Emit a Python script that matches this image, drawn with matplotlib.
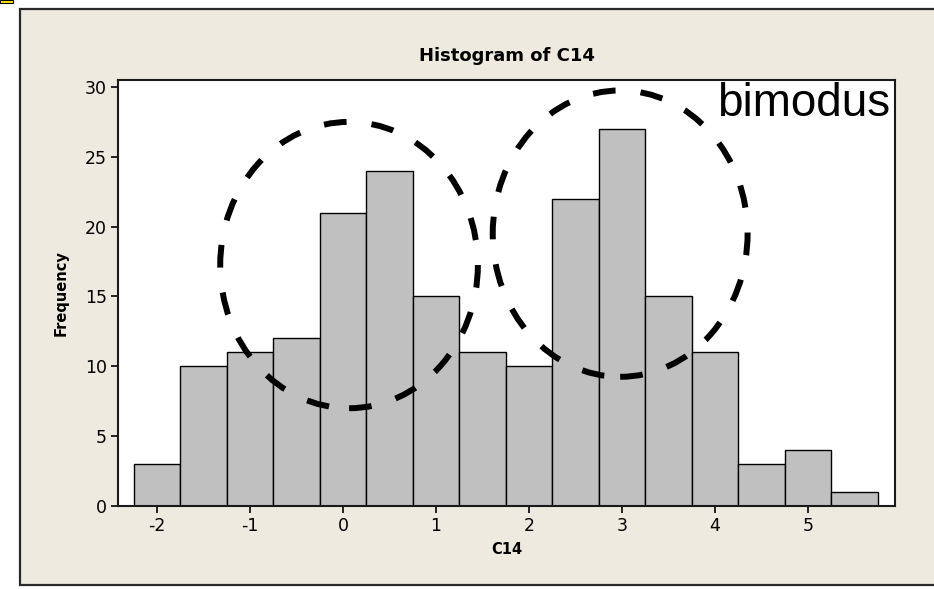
import matplotlib
matplotlib.use("Agg")
import matplotlib.pyplot as plt
from matplotlib.patches import Rectangle, Ellipse

plt.rcParams["axes.unicode_minus"] = False

# histogram bins (width 0.5) and counts for C14
bin_left = [-2.25, -1.75, -1.25, -0.75, -0.25, 0.25, 0.75, 1.25,
            1.75, 2.25, 2.75, 3.25, 3.75, 4.25, 4.75, 5.25]
counts = [3, 10, 11, 12, 21, 24, 15, 11, 10, 22, 27, 15, 11, 3, 4, 1]
bin_width = 0.5

x_ticks = [-2, -1, 0, 1, 2, 3, 4, 5]
y_ticks = [0, 5, 10, 15, 20, 25, 30]

# the two modes that get circled: (center x, center y, width, height)
mode_rings = [(0.065, 17.25, 2.77, 20.5), (2.98, 19.5, 2.74, 20.5)]

panel_bg = "#EEEAE0"
bar_fill = "#C0C0C0"

fig = plt.figure(figsize=(9.34, 5.89), dpi=100)
fig.patch.set_facecolor("white")

# beige graph panel with dark border
W, H = 934, 589
fig.patches.append(Rectangle((20 / W, 1 - 585 / H), 1.0, (585 - 9) / H,
                             transform=fig.transFigure, facecolor=panel_bg,
                             edgecolor="#2a2a2a", linewidth=1.6, zorder=-10))
# small yellow marker in the corner
fig.patches.append(Rectangle((0, 1 - 3 / H), 13 / W, 3 / H,
                             transform=fig.transFigure, facecolor="#FFE600",
                             edgecolor="black", linewidth=0.8, zorder=-9))

ax = fig.add_axes([118 / W, 1 - 506 / H, 777 / W, 426 / H])
ax.set_zorder(5)
ax.set_facecolor("white")

ax.bar(bin_left, counts, width=bin_width, align="edge", color=bar_fill,
       edgecolor="black", linewidth=1.0, zorder=2)

for cx, cy, w, h in mode_rings:
    ax.add_patch(Ellipse((cx, cy), w, h, fill=False, edgecolor="black",
                         linewidth=4.3, linestyle=(0, (3.8, 4.2)),
                         capstyle="butt", zorder=3))

ax.set_xlim(-2.419, 5.935)
ax.set_ylim(0, 30.5)
ax.set_xticks(x_ticks)
ax.set_yticks(y_ticks)
ax.tick_params(axis="both", direction="out", length=5, width=1.2,
               colors="black", labelsize=12.5, pad=3)
for sp in ax.spines.values():
    sp.set_linewidth(1.5)
    sp.set_color("#1a1a1a")

ax.set_xlabel("C14", fontsize=10.5, fontweight="bold", labelpad=5)
ax.set_ylabel("Frequency", fontsize=10.5, fontweight="bold", labelpad=12)
ax.set_title("Histogram of C14", fontsize=13, fontweight="bold", pad=14)

ax.text(0.994, 0.995, "bimodus", transform=ax.transAxes, ha="right", va="top",
        fontsize=33, family="Liberation Sans", color="black", zorder=4)

fig.savefig("out.png", dpi=100, facecolor=fig.get_facecolor())
